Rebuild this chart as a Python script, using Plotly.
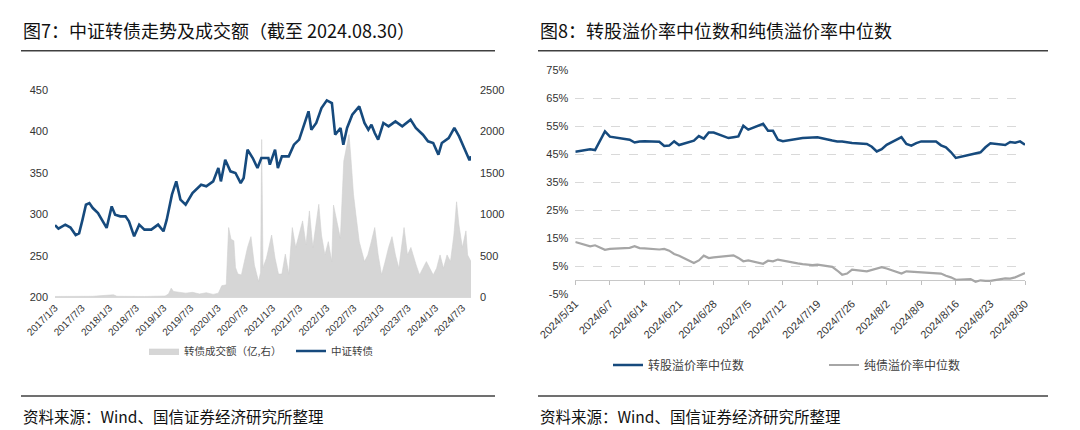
import plotly.graph_objects as go

# ---------------- Left chart data ----------------
cb_dates = ["2017-01-03","2017-01-26","2017-03-13","2017-04-17","2017-05-22","2017-06-14","2017-07-07","2017-07-30","2017-08-22","2017-09-14","2017-10-19","2017-11-23","2017-12-16",
            "2018-01-19","2018-02-11","2018-03-18","2018-04-22","2018-05-15","2018-06-19","2018-07-23","2018-08-27","2018-10-12","2018-11-27",
            "2019-01-02","2019-01-24","2019-02-28","2019-03-29","2019-04-26","2019-05-31","2019-07-16","2019-09-12","2019-10-17","2019-12-02",
            "2020-01-06","2020-01-23","2020-02-21","2020-03-27","2020-04-30","2020-06-04","2020-06-24","2020-07-20","2020-08-24","2020-09-25","2020-10-21","2020-12-07","2020-12-17",
            "2021-01-21","2021-02-09","2021-03-08","2021-04-23","2021-05-28","2021-07-02","2021-08-05","2021-09-03","2021-09-22","2021-10-25","2021-11-29",
            "2022-01-04","2022-02-07","2022-03-01","2022-04-06","2022-04-25","2022-05-20","2022-06-24","2022-08-10","2022-09-14","2022-10-10","2022-10-31","2022-11-22","2022-12-15",
            "2023-01-19","2023-02-23","2023-04-10","2023-05-26","2023-07-21","2023-08-25","2023-10-12","2023-11-15","2023-12-20",
            "2024-01-24","2024-02-16","2024-04-02","2024-05-10","2024-06-11","2024-07-15","2024-08-12","2024-08-20","2024-08-30"]
cb_index = [286.7, 282.7, 287.5, 284, 275, 277, 293.5, 311.5, 313.5, 307.5, 301.5, 289.5, 283.5,
            309.5, 299.5, 297.5, 297.5, 291.5, 273.4, 287.5, 281.5, 281.5, 287.5,
            279.5, 293.5, 323.6, 339.6, 317.6, 311.5, 325.6, 335.6, 333.6, 339.6,
            355.7, 339.6, 365.7, 351.7, 349.7, 337.6, 343.7, 377.8, 367.7, 355.7, 367.7, 367.7, 359.7,
            377.8, 355.7, 369.7, 369.7, 383.8, 389.9, 407.9, 424, 401.8, 409.9, 427.9,
            437.2, 434, 395.8, 403.9, 383.8, 403.9, 419.9, 430, 409.9, 401.8, 407.9, 397.8, 389.9,
            409.9, 405.9, 411.9, 405.9, 413.9, 403.9, 395.8, 387.8, 385.8,
            371.7, 385.8, 391.8, 403.9, 393.8, 379.8, 368, 365, 370]

vol_dates = ["2017-01-03","2017-05-22","2017-09-14","2018-01-31","2018-02-23","2018-08-27",
             "2019-01-13","2019-02-05","2019-02-23","2019-03-11","2019-04-15","2019-05-31","2019-07-16","2019-09-01","2019-10-17","2019-12-02",
             "2020-01-06","2020-01-29","2020-02-28","2020-03-15","2020-03-31","2020-04-19","2020-04-30","2020-05-16","2020-06-09","2020-07-09","2020-07-20","2020-08-12","2020-09-04","2020-10-02","2020-10-16","2020-10-23","2020-11-01","2020-11-24","2020-12-29",
             "2021-01-21","2021-02-13","2021-03-08","2021-03-31","2021-04-23","2021-05-17","2021-06-09","2021-07-02","2021-07-25","2021-08-17","2021-09-09","2021-10-02","2021-10-25","2021-11-11","2021-11-29","2021-12-22",
             "2022-01-14","2022-02-06","2022-02-18","2022-03-13","2022-04-05","2022-04-28","2022-05-17","2022-06-02","2022-06-13","2022-07-02","2022-07-18","2022-08-10","2022-09-14","2022-10-07","2022-10-30","2022-11-22","2022-12-15",
             "2023-01-07","2023-01-31","2023-02-23","2023-03-18","2023-04-10","2023-05-03","2023-06-07","2023-06-30","2023-07-23","2023-08-27","2023-09-19","2023-10-12","2023-11-04","2023-11-27","2023-12-20",
             "2024-01-12","2024-02-04","2024-02-27","2024-03-22","2024-04-14","2024-05-07","2024-05-25","2024-06-10","2024-07-03","2024-07-27","2024-08-07","2024-08-30"]
vol_amount = [10, 10, 12, 30, 12, 10,
              15, 40, 110, 70, 60, 50, 60, 40, 55, 35,
              50, 140, 150, 840, 700, 680, 360, 280, 270, 520, 600, 730, 390, 190, 300, 1900, 360, 470, 750,
              470, 280, 280, 520, 280, 840, 600, 750, 920, 630, 1040, 600, 940, 1120, 750, 510,
              670, 430, 1110, 910, 710, 1640, 1840, 1960, 1720, 1240, 1000, 670, 430, 510, 670, 840, 510,
              270, 430, 600, 730, 510, 350, 840, 510, 600, 390, 270, 350, 430, 350, 270,
              350, 510, 350, 510, 430, 750, 1150, 870, 600, 800, 510, 430]

left_xtick_vals = ["2017-01-03","2017-07-03","2018-01-03","2018-07-03","2019-01-03","2019-07-03","2020-01-03","2020-07-03",
                   "2021-01-03","2021-07-03","2022-01-03","2022-07-03","2023-01-03","2023-07-03","2024-01-03","2024-07-03"]
left_xtick_text = [d[:4] + "/" + str(int(d[5:7])) + "/" + str(int(d[8:])) for d in left_xtick_vals]

# ---------------- Right chart data ----------------
prem_dates = ["2024-05-31","2024-06-03","2024-06-04","2024-06-05","2024-06-06","2024-06-07","2024-06-11","2024-06-12","2024-06-13","2024-06-14",
              "2024-06-17","2024-06-18","2024-06-19","2024-06-20","2024-06-21","2024-06-24","2024-06-25","2024-06-26","2024-06-27","2024-06-28",
              "2024-07-01","2024-07-02","2024-07-03","2024-07-04","2024-07-05","2024-07-08","2024-07-09","2024-07-10","2024-07-11","2024-07-12",
              "2024-07-15","2024-07-16","2024-07-17","2024-07-18","2024-07-19","2024-07-22","2024-07-23","2024-07-24","2024-07-25","2024-07-26",
              "2024-07-29","2024-07-30","2024-07-31","2024-08-01","2024-08-02","2024-08-05","2024-08-06","2024-08-07","2024-08-08","2024-08-09",
              "2024-08-12","2024-08-13","2024-08-14","2024-08-15","2024-08-16","2024-08-19","2024-08-20","2024-08-21","2024-08-22","2024-08-23",
              "2024-08-26","2024-08-27","2024-08-28","2024-08-29","2024-08-30"]
conv_premium = [45.9, 46.8, 46.5, 49.6, 53.2, 51.3, 50.2, 49.2, 49.6, 49.7,
                49.5, 48.0, 48.1, 49.6, 48.3, 49.9, 51.5, 50.6, 52.8, 52.8,
                50.8, 51.1, 51.4, 55.2, 53.8, 55.9, 53.4, 53.4, 50.2, 49.7,
                50.6, 50.8, 50.9, 51.1, 51.1, 49.9, 49.6, 49.6, 49.3, 49.0,
                48.7, 47.7, 46.0, 46.8, 48.4, 51.1, 48.7, 48.1, 49.0, 49.6,
                49.6, 48.2, 47.5, 45.8, 43.7, 44.9, 45.3, 45.7, 47.5, 48.9,
                48.3, 49.4, 49.1, 49.6, 48.4]
bond_premium = [13.7, 12.1, 12.5, 11.8, 10.9, 11.2, 11.6, 12.2, 11.5, 11.4,
                11.0, 11.2, 10.6, 9.4, 8.8, 6.2, 7.1, 8.8, 7.95, 8.2,
                8.7, 8.9, 8.0, 6.8, 7.1, 5.9, 7.0, 6.8, 7.4, 7.0,
                6.05, 5.8, 5.5, 5.4, 5.6, 4.8, 3.5, 2.0, 2.4, 3.8,
                3.2, 3.7, 4.2, 4.7, 4.2, 2.4, 3.2, 3.1, 2.8, 2.7,
                2.5, 2.4, 1.6, 1.05, 0.2, 0.45, -0.5, 0.0, -0.2, -0.2,
                0.7, 0.6, 1.05, 1.8, 2.6]

right_xtick_vals = ["2024-05-31","2024-06-07","2024-06-14","2024-06-21","2024-06-28","2024-07-05","2024-07-12",
                    "2024-07-19","2024-07-26","2024-08-02","2024-08-09","2024-08-16","2024-08-23","2024-08-30"]
right_xtick_text = [d[:4] + "/" + str(int(d[5:7])) + "/" + str(int(d[8:])) for d in right_xtick_vals]
right_ytick_vals = [-5, 5, 15, 25, 35, 45, 55, 65, 75]
right_ytick_text = [f"{v}%" for v in right_ytick_vals]

BLUE = "#164a7d"
GRAY_LINE = "#a6a6a6"
BAR_GRAY = "#d6d6d6"
TICK_FONT = dict(family="Liberation Sans, Arial, sans-serif", size=11, color="#333333")
CJK = "Noto Sans CJK SC"

W, H = 1080, 430
def px(x):
    return x / W
def py(y):
    return 1 - y / H

fig = go.Figure()

fig.add_trace(go.Scatter(x=vol_dates, y=vol_amount, name="转债成交额（亿,右）", mode="lines",
                         line=dict(color="#d0d0d0", width=0.6), fill="tozeroy", fillcolor=BAR_GRAY,
                         xaxis="x", yaxis="y", legend="legend"))
fig.add_trace(go.Scatter(x=cb_dates, y=cb_index, name="中证转债", mode="lines",
                         line=dict(color=BLUE, width=2.6), xaxis="x", yaxis="y2", legend="legend"))

fig.add_trace(go.Scatter(x=prem_dates, y=conv_premium, name="转股溢价率中位数", mode="lines",
                         line=dict(color=BLUE, width=2.5), xaxis="x2", yaxis="y3", legend="legend2"))
fig.add_trace(go.Scatter(x=prem_dates, y=bond_premium, name="纯债溢价率中位数", mode="lines",
                         line=dict(color=GRAY_LINE, width=2.2), xaxis="x3", yaxis="y3", legend="legend2"))

left_dom_x = [px(47), px(463)]
left_dom_y = [py(289.3), py(81.7)]
right_dom_x = [px(567.3), px(1017)]
right_dom_y = [py(286.3), py(62.3)]
zero_pos = right_dom_y[0] + (0 - (-5)) / 80 * (right_dom_y[1] - right_dom_y[0])

fig.update_layout(
    width=W, height=H, margin=dict(l=0, r=0, t=0, b=0, autoexpand=False),
    paper_bgcolor="white", plot_bgcolor="white",
    font=dict(family=CJK, color="#333333"),
    xaxis=dict(domain=left_dom_x, anchor="y", type="date", range=["2017-01-03", "2024-08-30"], automargin=False,
               tickvals=left_xtick_vals, ticktext=left_xtick_text, tickangle=-45,
               tickfont=dict(family="Liberation Sans, Arial", size=10, color="#333333"),
               showgrid=False, zeroline=False, showline=True, linecolor="#d9d9d9", linewidth=1, ticks=""),
    yaxis=dict(domain=left_dom_y, anchor="x", side="right", range=[0, 2500], tickvals=[0, 500, 1000, 1500, 2000, 2500],
               automargin=False, showgrid=False, zeroline=False, showline=False, tickfont=TICK_FONT, ticklabelstandoff=8),
    yaxis2=dict(overlaying="y", anchor="x", side="left", range=[200, 450], tickvals=[200, 250, 300, 350, 400, 450],
                automargin=False, showgrid=False, zeroline=False, showline=False, tickfont=TICK_FONT, ticklabelstandoff=6),
    xaxis2=dict(domain=right_dom_x, anchor="y3", type="date", range=["2024-05-31", "2024-08-30"], automargin=False,
                tickvals=right_xtick_vals, ticktext=right_xtick_text, tickangle=-45,
                tickfont=dict(family="Liberation Sans, Arial", size=11, color="#333333"),
                showgrid=False, zeroline=False, showline=False, ticks=""),
    xaxis3=dict(overlaying="x2", anchor="free", position=zero_pos, type="date", range=["2024-05-31", "2024-08-30"],
                automargin=False, tickvals=right_xtick_vals, showticklabels=False, ticks="outside", ticklen=4,
                tickcolor="#bfbfbf", showgrid=False, zeroline=False, showline=False),
    yaxis3=dict(domain=right_dom_y, anchor="x2", range=[-5, 75], tickvals=right_ytick_vals, ticktext=right_ytick_text,
                automargin=False, showgrid=True, gridcolor="#d9d9d9", griddash="dash", gridwidth=1,
                zeroline=True, zerolinecolor="#c8c8c8", zerolinewidth=1.2,
                showline=False, tickfont=TICK_FONT, ticklabelstandoff=6),
    legend=dict(orientation="h", x=px(136), xanchor="left", y=py(343), yanchor="middle",
                font=dict(family=CJK, size=10.5, color="#404040"), bgcolor="rgba(0,0,0,0)",
                itemwidth=30, entrywidth=102, entrywidthmode="pixels"),
    legend2=dict(orientation="h", x=px(600), xanchor="left", y=py(357), yanchor="middle",
                 font=dict(family=CJK, size=12, color="#404040"), bgcolor="rgba(0,0,0,0)",
                 itemwidth=30, entrywidth=171, entrywidthmode="pixels"),
    showlegend=True,
)

# titles and source notes
fig.add_annotation(text="图7：中证转债走势及成交额（截至 2024.08.30）", x=px(13), y=py(22), xref="paper", yref="paper",
                   xanchor="left", yanchor="middle", showarrow=False, font=dict(family=CJK, size=18, color="#111111"))
fig.add_annotation(text="图8：转股溢价率中位数和纯债溢价率中位数", x=px(530), y=py(22), xref="paper", yref="paper",
                   xanchor="left", yanchor="middle", showarrow=False, font=dict(family=CJK, size=18, color="#111111"))
fig.add_annotation(text="资料来源：Wind、国信证券经济研究所整理", x=px(13), y=py(408), xref="paper", yref="paper",
                   xanchor="left", yanchor="middle", showarrow=False, font=dict(family=CJK, size=15.5, color="#111111"))
fig.add_annotation(text="资料来源：Wind、国信证券经济研究所整理", x=px(530), y=py(408), xref="paper", yref="paper",
                   xanchor="left", yanchor="middle", showarrow=False, font=dict(family=CJK, size=15.5, color="#111111"))

for x0, x1 in [(13, 487), (530, 1040)]:
    fig.add_shape(type="line", xref="paper", yref="paper", x0=px(x0), x1=px(x1), y0=py(42.7), y1=py(42.7),
                  line=dict(color="#404040", width=1.5))
    fig.add_shape(type="line", xref="paper", yref="paper", x0=px(x0), x1=px(x1), y0=py(388), y1=py(388),
                  line=dict(color="#404040", width=1.5))

fig.write_html("out.html")
